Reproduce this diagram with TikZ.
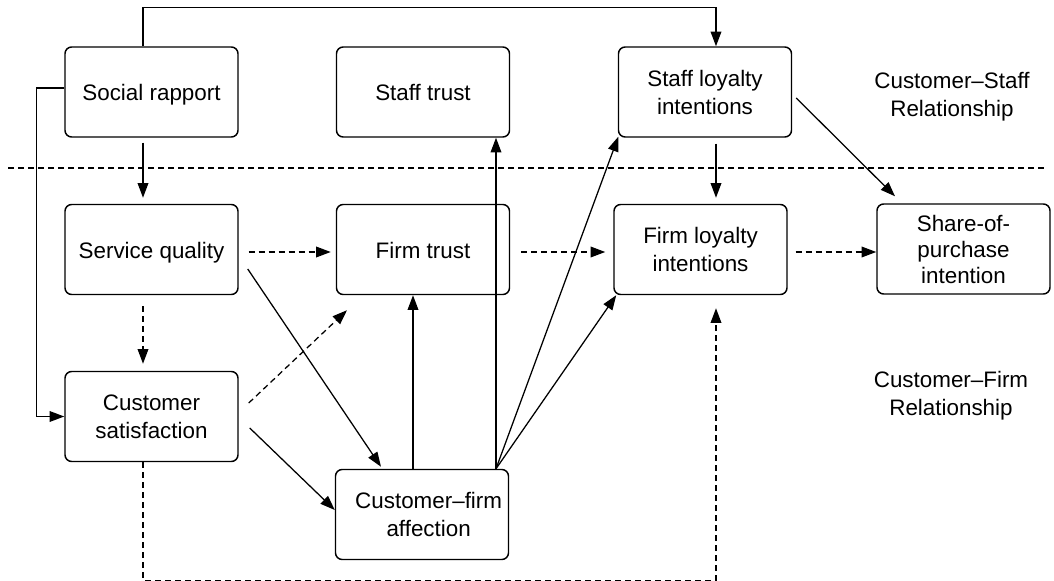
\documentclass[tikz,border=0pt]{standalone}
\usepackage{fontspec}
\setmainfont{Liberation Sans}
\usetikzlibrary{calc,arrows.meta}
\begin{document}
\begin{tikzpicture}[x=0.75pt,y=-0.75pt,
  box/.style={draw,line width=1.1pt,rounded corners=5pt,minimum width=129.75pt,minimum height=67.5pt,inner sep=0pt,align=center,font=\fontsize{16.8}{21}\selectfont},
  onel/.style={text height=13.5pt,text depth=0pt},
  lbl/.style={align=center,font=\fontsize{16.8}{21}\selectfont},
  arr/.style={line width=0.95pt,-{Triangle[length=11pt,width=8pt]}},
  dsh/.style={dash pattern=on 4.5pt off 3pt}]
\useasboundingbox (0,0) rectangle (1054,581);
\node[box,onel] (soc) at (151.5,92) {Social rapport};
\node[box,onel] (strust) at (423,92) {Staff trust};
\node[box] (sloy) at (705,92) {Staff loyalty\\intentions};
\node[box,onel] (sq) at (151.5,249.5) {Service quality};
\node[box,onel] (ftrust) at (423,249.5) {Firm trust};
\node[box] (floy) at (700.5,249.5) {Firm loyalty\\intentions};
\node[box,font=\fontsize{16.8}{19.5}\selectfont] (share) at (963.5,249) {Share-of-\\purchase\\intention};
\node[box] (csat) at (151.5,416.5) {Customer\\satisfaction};
\node[box] (aff) at (422,514.5) {\hspace*{10pt}Customer--firm\\\hspace*{10pt}affection};
\node[lbl] (lstaff) at (952,97) {Customer--Staff\\Relationship};
\node[lbl] (lfirm) at (951,396) {Customer--Firm\\Relationship};
\coordinate (sepL) at (8,168);
\coordinate (sepR) at (1047,168);
\draw[line width=0.95pt,dsh] (sepL) -- (sepR);
% connectors
\draw[arr] ($(soc.north)+(-8.5,0)$) -- ++(0,-39) -| ($(sloy.north)+(11,0)$);
\draw[arr] ($(soc.west)+(0,-4)$) -- ++(-28,0) |- (csat.west);
\draw[arr] ($(soc.south)+(-8.5,5)$) -- ($(sq.north)+(-8.5,-6)$);
\draw[arr,dsh] ($(sq.south)+(-8.5,11)$) -- ($(csat.north)+(-8.5,-7)$);
\draw[arr,dsh] ($(sq.east)+(10,2.5)$) -- ($(ftrust.west)+(-5,2.5)$);
\draw[arr,dsh] ($(ftrust.east)+(11,2.5)$) -- ($(floy.west)+(-8,2.5)$);
\draw[arr,dsh] ($(floy.east)+(8,2.5)$) -- ($(share.west)+(0,3)$);
\draw[arr] ($(sloy.south)+(11,6)$) -- ($(floy.north)+(15.5,-6)$);
\draw[arr] ($(sloy.east)+(4,6)$) -- ($(share.north)+(-68.5,-7)$);
\draw[arr] ($(sq.east)+(9,19.5)$) -- ($(aff.north)+(-41,-2)$);
\draw[arr,dsh] ($(csat.east)+(10,-13.5)$) -- ($(ftrust.south)+(-76,15)$);
\draw[arr] ($(csat.east)+(11,11.5)$) -- ($(aff.west)+(0,-4.5)$);
\draw[arr] ($(aff.north)+(-9,0)$) -- ($(ftrust.south)+(-10,0)$);
\coordinate (fan) at ($(aff.north)+(74,0)$);
\draw[arr] (fan) -- ($(strust.south)+(73,0)$);
\draw[arr] (fan) -- ($(sloy.south west)+(0.5,-1)$);
\draw[arr] (fan) -- ($(floy.south west)+(3,0)$);
\draw[arr,dsh] ($(csat.south)+(-8.5,0)$) -- ++(0,118) -| ($(floy.south)+(15.5,13)$);
\end{tikzpicture}
\end{document}
